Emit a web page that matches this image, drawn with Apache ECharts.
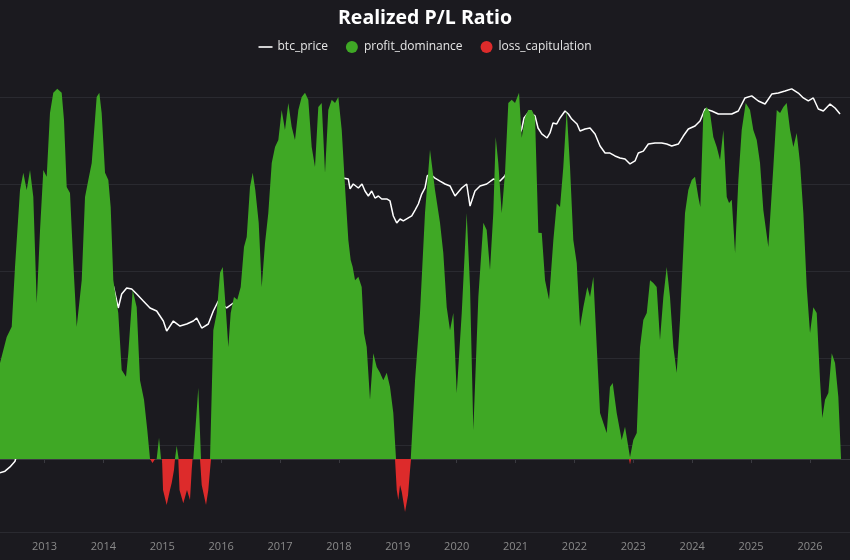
<!DOCTYPE html>
<html><head><meta charset="utf-8">
<script src="https://cdn.jsdelivr.net/npm/echarts@6/dist/echarts.min.js"></script>
<style>html,body{margin:0;padding:0;background:#1b1a1f}#chart{width:850px;height:560px}</style>
</head><body><div id="chart"></div>
<script>
// Time positions are decimal years
const axisStartYear = 2012.2442;
const axisEndYear = 2026.680;
const yearTicks = [2013,2014,2015,2016,2017,2018,2019,2020,2021,2022,2023,2024,2025,2026];

const profitYears = [
2012.244,2012.358,2012.443,2012.499,2012.584,2012.640,2012.698,2012.754,2012.810,2012.868,2012.924,2012.980,
2013.037,2013.093,2013.149,2013.217,2013.292,2013.331,2013.377,2013.433,2013.489,2013.547,2013.632,2013.688,2013.744,2013.802,2013.886,2013.931,2013.971,
2014.028,2014.084,2014.124,2014.169,2014.253,2014.311,2014.384,2014.423,2014.498,2014.566,2014.622,2014.690,2014.746,2014.792,2014.905,2014.945,2014.979,
2015.216,2015.245,2015.279,2015.527,2015.612,2015.658,2015.811,2015.867,2015.925,2015.981,
2016.027,2016.077,2016.122,2016.162,2016.218,2016.274,2016.332,2016.388,2016.434,2016.490,2016.536,2016.580,2016.638,2016.689,2016.745,2016.801,2016.859,2016.915,2016.971,
2017.028,2017.084,2017.141,2017.198,2017.254,2017.311,2017.368,2017.424,2017.480,2017.538,2017.594,2017.650,2017.708,2017.764,2017.820,2017.878,2017.934,2017.990,
2018.048,2018.104,2018.160,2018.200,2018.234,2018.274,2018.330,2018.387,2018.426,2018.472,2018.528,2018.584,2018.642,2018.698,2018.754,2018.812,2018.868,2018.924,2018.970,
2019.220,2019.293,2019.377,2019.462,2019.547,2019.632,2019.717,2019.773,2019.831,2019.887,2019.943,
2020.001,2020.086,2020.170,2020.227,2020.283,2020.368,2020.453,2020.510,2020.566,2020.622,2020.663,2020.707,2020.765,2020.821,2020.877,2020.935,2020.991,
2021.059,2021.105,2021.161,2021.217,2021.275,2021.331,2021.387,2021.445,2021.501,2021.569,2021.642,2021.699,2021.755,2021.811,2021.869,2021.925,2021.981,
2022.039,2022.095,2022.151,2022.219,2022.265,2022.321,2022.379,2022.435,2022.548,2022.604,2022.650,2022.718,2022.803,2022.859,2022.944,
2023.000,2023.058,2023.114,2023.170,2023.228,2023.284,2023.340,2023.397,2023.453,2023.510,2023.567,2023.623,2023.680,2023.737,2023.793,2023.878,2023.934,2023.992,
2024.048,2024.104,2024.138,2024.189,2024.247,2024.303,2024.359,2024.417,2024.473,2024.529,2024.587,2024.626,2024.672,2024.728,2024.784,2024.841,2024.909,2024.982,
2025.038,2025.096,2025.152,2025.208,2025.293,2025.378,2025.436,2025.492,2025.548,2025.605,2025.662,2025.718,2025.775,2025.831,2025.888,2025.945,
2026.001,2026.057,2026.115,2026.171,2026.210,2026.256,2026.312,2026.370,2026.426,2026.482,2026.528
];
const profitValues = [
26.3,33.4,36.2,52.6,73.7,78.4,73.7,79.2,71.8,42.7,62.7,79.2,
77.3,94.8,100.3,101.4,100.3,92.9,74.5,72.9,53.7,36.2,49.0,71.8,76.4,81.1,99.2,100.3,94.8,
78.4,76.4,69.0,49.0,40.0,24.4,22.5,29.0,46.3,41.6,21.6,16.2,7.9,0,0,5.8,0,
0,3.6,0,0,19.5,0,0,35.3,40.0,51.0,
52.6,41.6,30.7,40.0,44.4,43.6,47.1,58.1,60.8,74.5,78.4,73.7,64.7,47.1,59.2,67.4,81.1,85.5,87.4,
95.6,90.1,97.5,91.0,87.4,95.6,99.2,100.3,98.4,85.5,80.0,96.4,97.5,78.4,95.6,98.4,97.5,99.2,
90.1,74.5,60.0,54.5,52.6,49.0,49.9,47.1,34.5,30.7,16.2,29.0,25.2,23.6,21.6,23.6,19.7,12.6,0,
0,21.6,40.0,67.4,84.7,73.7,64.7,56.4,41.6,35.3,40.0,
18.1,40.0,67.4,47.1,7.9,44.4,64.7,62.7,51.8,67.4,88.2,81.1,67.4,78.4,97.5,98.4,97.5,
100.3,88.0,93.7,95.6,95.6,93.7,62.0,61.9,49.0,43.6,60.0,70.0,69.0,80.0,95.6,80.0,60.0,
53.7,36.2,41.6,47.1,44.4,49.9,30.7,12.6,7.1,19.7,20.8,12.6,5.2,8.8,0.5,
5.2,7.1,30.7,38.1,40.0,49.0,48.2,47.1,32.6,44.4,52.6,44.4,30.7,23.6,38.1,67.4,73.7,76.4,
77.3,71.8,69.0,94.8,96.4,94.8,88.2,85.5,81.9,90.1,71.8,70.1,71.0,56.4,76.4,90.1,97.5,95.6,
90.1,87.4,81.1,68.2,58.1,80.0,95.6,94.8,96.4,97.5,90.1,85.5,89.3,81.1,67.4,47.1,
34.5,41.6,40.0,21.6,11.2,16.2,18.1,29.0,26.3,17.0,0
];

const lossYears = [
2012.244,2014.792,2014.834,2014.877,
2014.996,2015.013,2015.075,2015.131,2015.160,2015.199,2015.216,
2015.272,2015.293,2015.357,2015.420,2015.446,2015.471,2015.500,2015.514,
2015.641,2015.670,2015.743,2015.782,2015.811,2015.828,
2018.953,2018.982,2019.009,2019.038,2019.067,2019.123,2019.174,2019.208,2019.225,
2022.927,2022.944,2022.961,2026.528
];
const lossValues = [
0,0,-1.1,0,
0,-8.5,-12.6,-8.5,-6.6,-3.0,0,
0,-8.5,-12.1,-8.5,-9.9,-11.2,-3.0,0,
0,-7.1,-12.6,-8.5,-3.0,0,
0,-8.5,-11.2,-7.1,-9.0,-14.5,-9.9,-3.0,0,
0,-1.5,0,0
];

const priceYears = [
2012.244,2012.329,2012.414,2012.499,2012.58,2012.75,2012.92,2013.08,2013.2,2013.28,2013.4,2013.5,2013.67,2013.83,2013.92,2014.0,2014.1,
2014.169,2014.253,2014.311,2014.396,2014.481,2014.566,2014.678,2014.792,2014.905,2015.018,2015.075,2015.188,2015.301,2015.415,2015.527,2015.585,2015.670,2015.782,2015.867,2015.952,2016.094,2016.207,2016.264,
2016.4,2016.55,2016.7,2016.85,2017.0,2017.15,2017.3,2017.45,2017.6,2017.75,2017.88,2017.96,2018.02,
2018.070,2018.160,2018.189,2018.244,2018.330,2018.392,2018.443,2018.500,2018.557,2018.613,2018.670,2018.727,2018.812,2018.868,2018.924,2018.982,
2019.038,2019.094,2019.179,2019.237,2019.293,2019.349,2019.406,2019.462,2019.501,2019.547,2019.632,2019.717,2019.802,2019.887,2019.972,
2020.086,2020.170,2020.227,2020.311,2020.397,2020.510,2020.622,2020.736,2020.821,2020.9,2020.98,2021.05,
2021.105,2021.144,2021.212,2021.275,2021.331,2021.382,2021.445,2021.535,2021.585,2021.636,2021.699,2021.755,2021.840,2021.897,2021.954,
2022.044,2022.095,2022.180,2022.265,2022.350,2022.435,2022.520,2022.604,2022.689,2022.774,2022.859,2022.944,
2023.029,2023.085,2023.170,2023.255,2023.369,2023.482,2023.567,2023.652,2023.764,2023.849,2023.934,2024.048,2024.133,2024.218,2024.332,2024.444,2024.558,2024.672,2024.783,2024.897,
2025.011,2025.123,2025.237,2025.351,2025.463,2025.577,2025.690,2025.802,2025.888,2025.972,2026.057,2026.142,2026.227,2026.341,2026.426,2026.511
];
const priceValues = [
4.8,5.0,5.6,6.5,10.5,12,13,20,60,110,115,90,125,200,900,800,680,
673,376,544,638,621,544,452,376,347,266,204,266,233,246,266,288,221,246,347,452,376,429,429,
450,650,600,720,1000,1050,1200,2400,2700,4300,10000,15000,13500,
11700,11400,8770,10000,9000,10000,8310,7280,8310,6900,7280,6730,6730,6380,4290,3560,
3960,3760,4070,4290,5020,5890,7670,9000,12400,13000,11700,10800,10000,9500,7280,
9000,10000,5580,8310,9500,10000,11400,10800,12400,17000,28000,35000,
42900,57400,65500,63800,60500,44000,37600,33800,38600,50300,49000,57400,69000,63800,55800,
49000,40600,42900,44000,37600,27300,22700,22700,21000,19900,19400,17000,
18400,22700,23900,28800,29600,29600,28800,27300,28800,35600,42900,46400,53000,72800,69000,63800,63800,63800,69000,97500,
103000,90000,83000,108000,111000,117000,124000,111000,97500,90000,97500,72800,69000,83000,74800,63800
];

const zip = (xs, ys) => xs.map((x, i) => [x, ys[i]]);

const GREEN = '#3fa825';
const RED = '#dd2b2b';

const chart = echarts.init(document.getElementById('chart'), null, {renderer: 'canvas'});
chart.setOption({
  backgroundColor: '#1b1a1f',
  animation: false,
  title: {
    text: 'Realized P/L Ratio', left: 'center', top: 3,
    textStyle: {color: '#ffffff', fontSize: 19.5, fontWeight: 'bold', fontFamily: 'Open Sans'}
  },
  legend: {
    top: 36, left: 'center', itemGap: 18, itemWidth: 14, itemHeight: 12,
    textStyle: {color: '#e6e6e6', fontSize: 12, fontFamily: 'Open Sans'},
    data: [
      {name: 'btc_price', icon: 'path://M0,0M0,5.2L14,5.2L14,6.8L0,6.8ZM14,12'},
      {name: 'profit_dominance', icon: 'circle'},
      {name: 'loss_capitulation', icon: 'circle'}
    ]
  },
  grid: {left: 0, right: 0, top: 10, bottom: 28, containLabel: false},
  xAxis: {
    type: 'value', min: axisStartYear, max: axisEndYear,
    axisLine: {lineStyle: {color: '#3a3a40'}},
    axisTick: {show: true, length: 4, lineStyle: {color: '#3a3a40'}, customValues: yearTicks},
    axisLabel: {color: '#8a8a8a', fontSize: 11, margin: 9, fontFamily: 'Open Sans',
      customValues: yearTicks, formatter: v => String(Math.round(v))},
    splitLine: {show: false}
  },
  yAxis: [
    {type: 'log', logBase: 10, min: 1, max: 1e6,
     axisLine: {show: false}, axisTick: {show: false}, axisLabel: {show: false},
     splitLine: {show: true, showMaxLine: false, lineStyle: {color: '#2a2a30', width: 1}}},
    {type: 'value', min: -20, max: 123,
     axisLine: {show: false}, axisTick: {show: false}, axisLabel: {show: false}, splitLine: {show: false}}
  ],
  series: [
    {name: 'btc_price', type: 'line', yAxisIndex: 0, z: 1, data: zip(priceYears, priceValues),
     showSymbol: false, symbol: 'none', lineStyle: {color: '#ffffff', width: 1.5}, itemStyle: {color: '#ffffff'}},
    {name: 'profit_dominance', type: 'line', yAxisIndex: 1, z: 3, data: zip(profitYears, profitValues),
     showSymbol: false, symbol: 'none', lineStyle: {width: 0}, itemStyle: {color: GREEN},
     areaStyle: {color: GREEN, opacity: 1}},
    {name: 'loss_capitulation', type: 'line', yAxisIndex: 1, z: 3, data: zip(lossYears, lossValues),
     showSymbol: false, symbol: 'none', lineStyle: {width: 0}, itemStyle: {color: RED},
     areaStyle: {color: RED, opacity: 1}}
  ]
});
</script>
</body></html>
